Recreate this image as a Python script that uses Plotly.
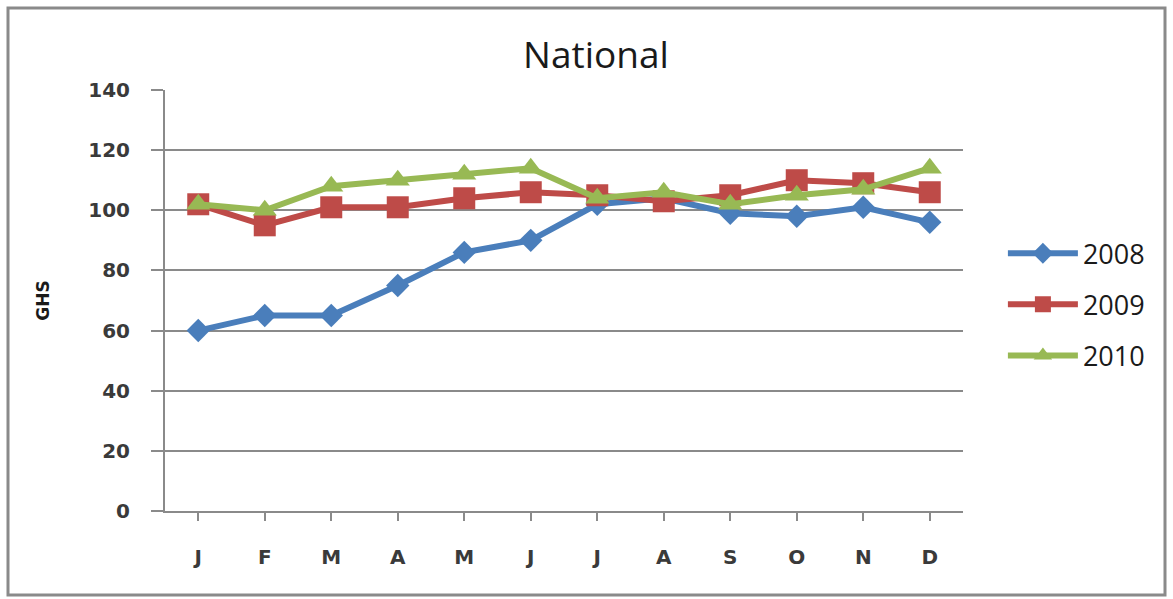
import plotly.graph_objects as go

months = ["J", "F", "M", "A", "M", "J", "J", "A", "S", "O", "N", "D"]
series_names = ["2008", "2009", "2010"]
values_2008 = [60, 65, 65, 75, 86, 90, 102, 104, 99, 98, 101, 96]
values_2009 = [102, 95, 101, 101, 104, 106, 105, 103, 105, 110, 109, 106]
values_2010 = [102, 100, 108, 110, 112, 114, 104, 106, 102, 105, 107, 114]
y_ticks = [0, 20, 40, 60, 80, 100, 120, 140]

colors = ["#4a7ebb", "#be4b48", "#98b954"]
symbols = ["diamond", "square", "triangle-up"]
marker_sizes = [18, 22, 21]

x_pos = list(range(len(months)))
fig = go.Figure()
for name, vals, col, sym, ms in zip(series_names, [values_2008, values_2009, values_2010],
                                    colors, symbols, marker_sizes):
    fig.add_trace(go.Scatter(
        x=x_pos, y=vals, name=name, mode="lines+markers",
        line=dict(color=col, width=6),
        marker=dict(symbol=sym, size=ms, color=col),
        legendgroup=name,
    ))

grid_col = "#8a8a8a"
tick_font = dict(family="DejaVu Sans", size=20, color="#3a3a3a", weight="bold")
fig.update_layout(
    width=1173, height=599,
    margin=dict(l=165, r=210, t=90, b=88),
    paper_bgcolor="white", plot_bgcolor="white",
    title=dict(text="National", x=596 / 1173, xanchor="center",
               y=1 - 55 / 599, yanchor="middle",
               font=dict(family="Open Sans", size=37, color="#1a1a1a")),
    xaxis=dict(
        tickmode="array", tickvals=x_pos, ticktext=months,
        range=[-0.5, len(months) - 0.5],
        showline=True, linecolor=grid_col, linewidth=2,
        ticks="outside", ticklen=8, tickwidth=2, tickcolor=grid_col,
        tickson="boundaries", showgrid=False, zeroline=False,
        tickfont=tick_font,
        ticklabelstandoff=19,
    ),
    yaxis=dict(
        range=[0, 140], tickvals=y_ticks,
        showline=True, linecolor=grid_col, linewidth=2,
        ticks="outside", ticklen=12, tickwidth=2, tickcolor=grid_col,
        showgrid=True, gridcolor=grid_col, gridwidth=2, zeroline=False,
        tickfont=tick_font,
        ticklabelstandoff=17,
        title=dict(text="GHS", standoff=34,
                   font=dict(family="DejaVu Sans", size=17, color="#1a1a1a", weight="bold")),
    ),
    legend=dict(
        x=1.05, y=0.49, xanchor="left", yanchor="middle",
        traceorder="grouped", tracegroupgap=13,
        font=dict(family="Open Sans", size=27, color="#1a1a1a"),
        itemwidth=70, bgcolor="rgba(0,0,0,0)",
    ),
    shapes=[dict(
        type="rect", xref="paper", yref="paper",
        x0=(8 - 165) / 798, x1=(1165 - 165) / 798,
        y0=(511 - 595) / 421, y1=(511 - 8) / 421,
        line=dict(color="#8a8a8a", width=3), fillcolor="rgba(0,0,0,0)", layer="below",
    )],
)

fig.write_html("out.html")
